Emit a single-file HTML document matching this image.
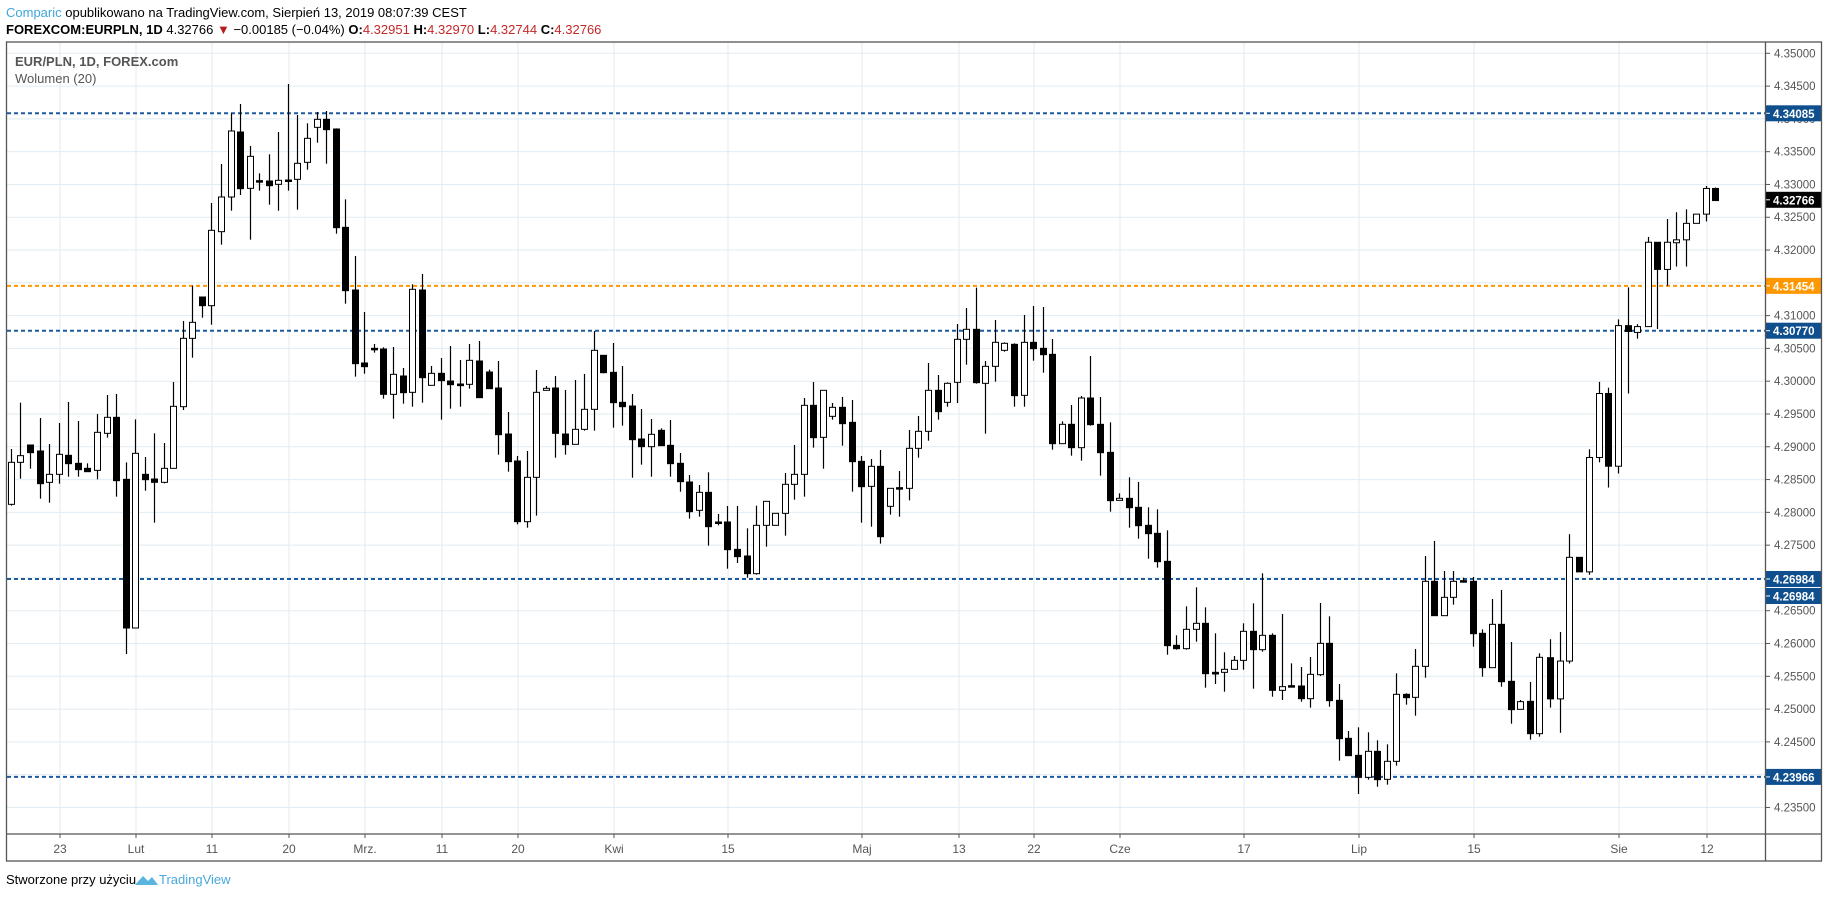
<!DOCTYPE html>
<html><head><meta charset="utf-8"><style>
body{margin:0;background:#fff;width:1828px;height:898px;overflow:hidden;font-family:"Liberation Sans",sans-serif}
</style></head><body>
<svg id="s" width="1828" height="898" xmlns="http://www.w3.org/2000/svg" font-family="Liberation Sans, sans-serif"></svg>
<script>
const s=document.getElementById('s');let h='';
const Y=p=>113.3+(4.34085-p)*6558;
// frame
h+='<rect x="0" y="0" width="1828" height="898" fill="#fff"/>';
// grid
for(let k=0;k<=23;k++){const p=4.35-k*0.005,y=Y(p);h+=`<line x1="7" x2="1765" y1="${y}" y2="${y}" stroke="#e1ecf2" stroke-width="1"/>`;
h+=`<line x1="1766" x2="1770" y1="${y}" y2="${y}" stroke="#555"/><text x="1774" y="${y+4}" font-size="11.5" fill="#555">${p.toFixed(5)}</text>`;}
const vx=[[60,'23'],[136,'Lut'],[212,'11'],[289,'20'],[365,'Mrz.'],[442,'11'],[518,'20'],[614,'Kwi'],[728,'15'],[862,'Maj'],[959,'13'],[1034,'22'],[1120,'Cze'],[1244,'17'],[1359,'Lip'],[1474,'15'],[1619,'Sie'],[1707,'12']];
vx.forEach(([x,t])=>{h+=`<line x1="${x}" x2="${x}" y1="42" y2="834" stroke="#e1ecf2"/><line x1="${x}" x2="${x}" y1="834" y2="838" stroke="#555"/><text x="${x}" y="853" font-size="12" fill="#555" text-anchor="middle">${t}</text>`});
// candles: [zx,hi,top,bot,lo,black]
const segs=[
[0,60,3,3,[[34,1167,1207,1333,1337,0],[61,1028,1187,1207,1256,0],[91,1155,1155,1178,1226,1],[121,1074,1173,1271,1316,1],[148,1152,1243,1267,1328,0],[178,1089,1183,1243,1271,0],[205,1026,1186,1211,1250,1],[235,1083,1210,1229,1250,1],[262,1210,1225,1235,1235,1],[292,1062,1117,1231,1258,0],[320,1005,1072,1120,1133,0],[349,1002,1072,1262,1310,1],[379,1207,1258,1704,1782,1],[406,1078,1180,1704,1704,0],[436,1191,1243,1259,1292,1],[463,1120,1257,1267,1388,1],[493,1149,1225,1267,1270,0],[520,966,1039,1225,1225,0],[550,783,835,1040,1050,0],[577,677,787,835,893,0],[607,711,711,737,773,1],[634,429,511,737,794,0],[664,312,411,515,554,0],[694,160,213,411,452,0],[721,132,216,386,405,1],[751,258,289,385,539,0]]],
[250,60,3,3,[[28,340,362,366,392,1],[58,283,363,377,434,1],[85,216,361,373,452,0],[115,72,360,362,392,1],[142,165,310,358,449,0],[172,190,235,307,329,0],[202,156,178,202,248,0],[229,153,178,209,311,1],[259,205,207,503,521,1],[286,418,502,692,731,1],[316,588,690,911,950,1],[343,756,909,920,941,1],[373,852,865,868,878,1],[400,862,867,1003,1016,1],[430,861,943,1003,1076,0],[460,924,948,998,1031,1],[487,673,688,997,1040,0],[517,642,690,953,1028,1],[544,918,940,976,976,0],[574,894,940,962,1079,1],[601,858,963,974,1046,1],[631,900,972,977,1040,1],[658,852,901,973,986,0],[688,843,903,1013,1013,1],[718,929,936,986,986,1],[745,903,984,1124,1184,1],[775,1056,1122,1205,1235,1]]],
[500,240,3,3,[[52,648,663,845,853,1],[82,633,712,845,863,0],[109,390,457,712,827,0],[139,438,445,451,451,0],[166,408,444,580,653,1],[196,450,582,614,644,1],[226,420,568,613,613,0],[253,402,508,568,572,0],[283,273,331,508,572,0],[310,346,346,398,400,1],[340,309,397,488,563,1],[367,378,487,500,557,1],[397,462,498,599,713,1],[424,507,597,620,674,1],[454,537,583,620,710,0],[484,565,571,617,617,1],[511,540,616,671,710,1],[541,639,670,725,755,1],[568,705,726,815,836,1],[598,735,757,811,830,0],[625,697,757,860,917,1],[655,822,846,850,856,1],[682,798,846,929,986,1],[712,798,928,950,969,1],[742,865,948,1001,1013,1],[769,797,856,1001,1004,0]]],
[760,280,3,3,[[19,664,664,736,800,0],[46,700,700,736,736,0],[76,579,613,700,767,0],[103,495,583,613,659,0],[133,354,376,583,650,0],[160,306,376,473,503,1],[190,331,331,472,566,0],[217,369,382,409,419,0],[247,351,382,431,497,1],[277,360,427,545,635,1],[304,528,544,620,728,1],[334,537,559,619,740,0],[361,510,559,770,791,1],[391,625,625,679,704,0],[418,573,623,627,710,1],[448,450,505,625,661,0],[475,408,454,505,533,0],[505,249,331,454,482,0],[535,285,331,395,419,1],[562,307,310,367,380,0],[592,132,178,307,369,0],[619,84,148,178,254,0],[649,23,148,308,311,1],[676,243,259,310,461,0],[706,120,187,259,305,0],[733,187,190,211,215,0],[763,190,193,347,380,1]]],
[1020,280,3,3,[[13,105,187,346,380,0],[40,78,187,206,242,1],[70,81,205,224,278,1],[97,177,223,491,509,1],[127,424,433,491,491,0],[154,375,433,503,527,1],[184,348,354,503,542,0],[211,228,354,434,437,1],[241,351,433,518,587,1],[271,427,517,662,695,1],[298,640,655,661,661,0],[328,592,655,683,743,1],[355,606,682,737,776,1],[385,682,736,761,836,1],[412,688,760,845,863,1],[442,751,844,1097,1124,1],[469,1066,1096,1106,1109,1],[499,979,1048,1106,1109,0],[529,922,1030,1048,1085,0],[556,982,1030,1181,1223,1],[586,1060,1177,1182,1212,1],[613,1117,1168,1177,1235,0],[643,1128,1141,1168,1168,0],[670,1030,1054,1141,1169,0],[700,970,1054,1109,1226,1],[727,880,1066,1109,1115,0],[757,1060,1066,1231,1250,1]]],
[1280,540,3,3,[[7,222,440,451,480,0],[34,370,437,441,441,1],[64,381,438,476,485,1],[91,351,403,476,503,0],[121,189,310,404,408,0],[148,229,310,482,500,1],[178,432,481,596,662,1],[205,573,595,647,647,1],[235,562,646,712,762,1],[265,577,634,712,719,0],[292,601,634,719,740,1],[322,613,664,718,734,0],[349,400,463,664,677,0],[379,460,463,473,494,1],[406,327,379,472,527,0],[436,48,124,379,413,0],[463,3,124,227,227,1],[493,93,172,227,227,0],[520,93,124,172,194,0],[550,113,122,126,128,1],[580,111,124,281,320,1],[607,268,280,383,410,1],[637,177,253,383,383,0],[664,150,253,425,440,1],[694,306,424,509,551,1],[721,480,485,508,508,0],[751,426,484,581,599,1],[778,340,352,581,590,0]]],
[1530,60,2.94,2.063,[[58,1195,1233,1318,1336,1],[88,1180,1240,1318,1388,0],[116,978,1026,1240,1245,0],[145,1026,1026,1056,1056,1],[172,803,820,1056,1062,0],[202,664,688,820,830,0],[229,676,688,838,882,1],[258,535,548,838,853,0],[287,469,548,560,688,1],[316,545,550,562,575,0],[346,365,376,550,550,0],[373,376,376,432,555,1],[403,328,376,432,466,0],[430,314,371,377,426,0],[460,308,337,371,426,0],[487,318,318,337,337,0],[517,260,265,318,333,0],[545,263,265,290,290,1]]]
];
let cs='';
segs.forEach(([x0,y0,sx,sy,arr])=>arr.forEach(([zx,hi,tp,bt,lo,b])=>{
const x=Math.round(x0+zx/sx)+0.5,yh=y0+hi/sy,yt=y0+tp/sy,yb=y0+bt/sy,yl=y0+lo/sy;
cs+=`<line x1="${x}" x2="${x}" y1="${yh}" y2="${yl}" stroke="#000" stroke-width="1.2"/>`;
const bh=Math.max(yb-yt,1.5);
cs+=`<rect x="${x-3}" y="${yt}" width="6" height="${bh}" fill="${b?'#000':'#fff'}" stroke="#000" stroke-width="1"/>`;
}));
// price lines
const pl=[[4.34085,'#1c5ba0'],[4.31454,'#ff9800'],[4.30770,'#1c5ba0'],[4.26984,'#1c5ba0'],[4.23966,'#1c5ba0']];
pl.forEach(([p,c])=>{const y=Y(p);h+=`<line x1="7" x2="1765" y1="${y}" y2="${y}" stroke="${c}" stroke-width="2" stroke-dasharray="4,3"/>`});
h+=cs;
// labels
const lb=[[Y(4.34085),'4.34085','#0f4f8e'],[Y(4.31454),'4.31454','#ff9800'],[Y(4.30770),'4.30770','#0f4f8e'],[Y(4.26984),'4.26984','#0f4f8e'],[Y(4.26984)+17,'4.26984','#0f4f8e'],[Y(4.23966),'4.23966','#0f4f8e'],[Y(4.32766),'4.32766','#000']];
lb.forEach(([y,t,c])=>{h+=`<rect x="1766" y="${y-8}" width="56" height="16" fill="${c}"/><line x1="1766" x2="1770" y1="${y}" y2="${y}" stroke="#fff"/><text x="1773" y="${y+4.5}" font-size="11.5" font-weight="bold" fill="#fff">${t}</text>`});
// borders
h+='<rect x="6.5" y="42" width="1815" height="819" fill="none" stroke="#555" stroke-width="1.3"/>';
h+='<line x1="1765.5" x2="1765.5" y1="42" y2="861" stroke="#555" stroke-width="1.3"/><line x1="6.5" x2="1822" y1="834" y2="834" stroke="#555" stroke-width="1.3"/>';
// header
h+='<text x="6" y="17" font-size="13" fill="#000"><tspan fill="#3ea6dc">Comparic</tspan> opublikowano na TradingView.com, Sierpień 13, 2019 08:07:39 CEST</text>';
h+='<text x="6" y="34" font-size="13" fill="#000"><tspan font-weight="bold">FOREXCOM:EURPLN, 1D</tspan> 4.32766 <tspan fill="#b71c1c">▼</tspan> −0.00185 (−0.04%) <tspan font-weight="bold">O:</tspan><tspan fill="#c62828">4.32951</tspan> <tspan font-weight="bold">H:</tspan><tspan fill="#c62828">4.32970</tspan> <tspan font-weight="bold">L:</tspan><tspan fill="#c62828">4.32744</tspan> <tspan font-weight="bold">C:</tspan><tspan fill="#c62828">4.32766</tspan></text>';
h+='<text x="15" y="66" font-size="13" font-weight="bold" fill="#555">EUR/PLN, 1D, FOREX.com</text><text x="15" y="83" font-size="13" fill="#555">Wolumen (20)</text>';
// footer
h+='<text x="6" y="884" font-size="13" fill="#000">Stworzone przy użyciu</text>';
h+='<path d="M135 885 L143 876 L148 881 L152 877 L158 885 Z" fill="#5ab4e0"/><text x="159" y="884" font-size="13" fill="#4aa8dc">TradingView</text>';
s.innerHTML=h;
</script>
</body></html>
